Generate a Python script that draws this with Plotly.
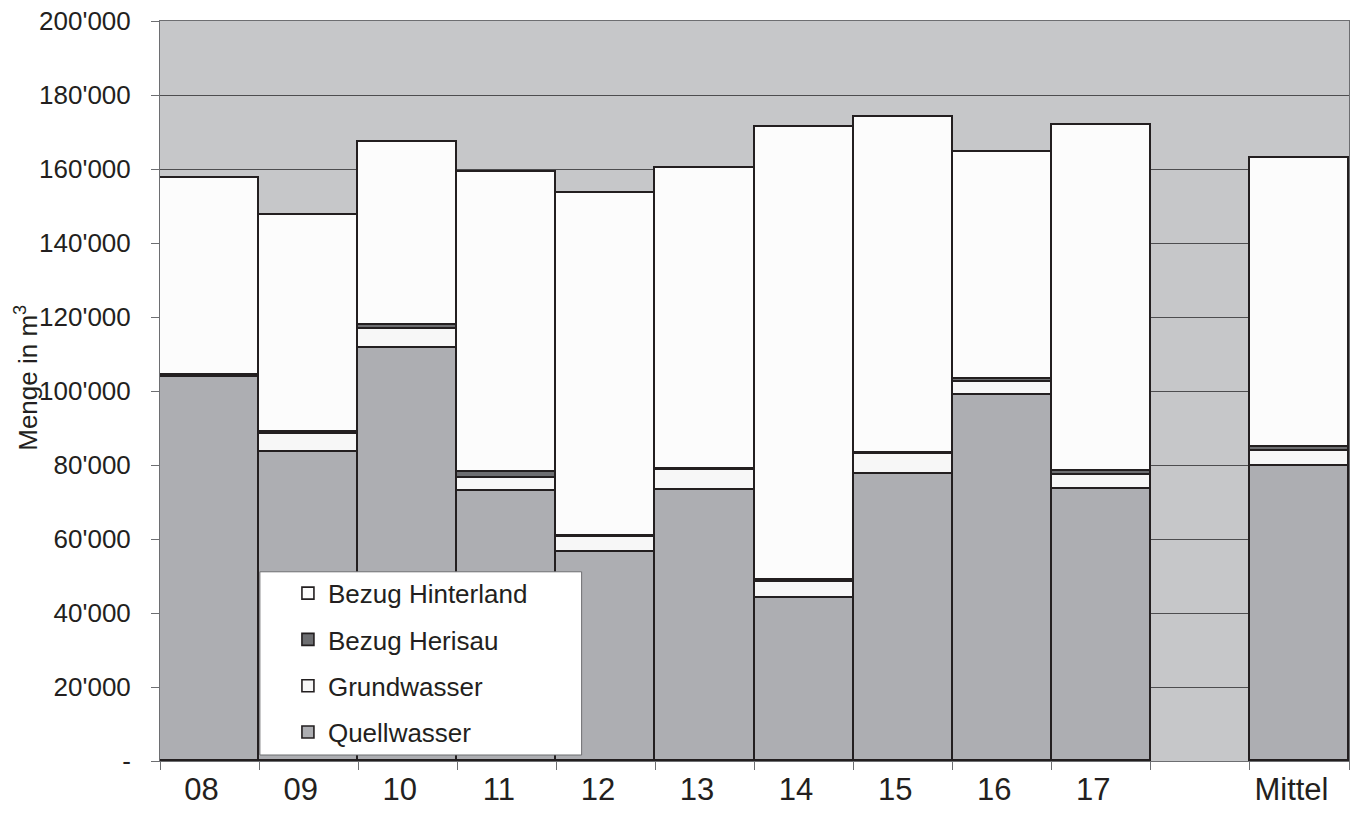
import plotly.graph_objects as go

# Jahresmengen der Wasserbeschaffung (m3), Jahre 2008-2017 plus Mittelwert
kategorien = ["08", "09", "10", "11", "12", "13", "14", "15", "16", "17", " ", "Mittel"]

quellwasser = [103700, 83500, 111700, 73000, 56600, 73300, 44100, 77700, 98900, 73500, None, 79600]
grundwasser = [0, 4800, 5000, 3400, 4000, 5300, 4300, 5300, 3400, 3900, None, 4200]
bezug_herisau = [700, 700, 1200, 1800, 300, 300, 400, 300, 1000, 1000, None, 1000]
bezug_hinterland = [53100, 58600, 49300, 80900, 92500, 81500, 122600, 90800, 61200, 93450, None, 78300]

y_ticks = [0, 20000, 40000, 60000, 80000, 100000, 120000, 140000, 160000, 180000, 200000]
y_ticktext = ["-", "20'000", "40'000", "60'000", "80'000", "100'000", "120'000",
              "140'000", "160'000", "180'000", "200'000"]

FONT = "Liberation Sans, Arial, sans-serif"
EDGE = "#231f20"

# (name, values, fill colour, legend rank)
serien = [
    ("Quellwasser", quellwasser, "#adaeb2", 4),
    ("Grundwasser", grundwasser, "#f7f7f7", 3),
    ("Bezug Herisau", bezug_herisau, "#6d6e71", 2),
    ("Bezug Hinterland", bezug_hinterland, "#fcfcfc", 1),
]

fig = go.Figure()
for name, werte, farbe, rang in serien:
    fig.add_trace(go.Bar(
        x=kategorien, y=werte, name=name, legendgroup=name, legendrank=rang,
        marker=dict(color=farbe, line=dict(color=EDGE, width=1.6)),
        hoverinfo="x+y+name",
    ))

# white legend frame
fig.add_shape(type="rect", xref="paper", yref="paper",
              x0=0.084, x1=0.3546, y0=0.0081, y1=0.2557,
              fillcolor="white", line=dict(color="#6d6e71", width=1), layer="above")

# y-axis title
fig.add_annotation(text="Menge in m<sup>3</sup>", xref="paper", yref="paper",
                   x=-0.1118, y=0.518, xanchor="center", yanchor="middle",
                   textangle=-90, showarrow=False,
                   font=dict(family=FONT, size=26, color="#231f20"))

fig.update_layout(
    width=1356, height=813,
    margin=dict(l=160, r=6, t=18, b=52),
    barmode="stack", bargap=0,
    plot_bgcolor="#c6c7c9", paper_bgcolor="white",
    font=dict(family=FONT, size=24, color="#231f20"),
    showlegend=True,
    legend=dict(
        x=0.1076, y=0.2585, xanchor="left", yanchor="top",
        traceorder="grouped", tracegroupgap=9.5,
        bgcolor="rgba(0,0,0,0)", borderwidth=0,
        font=dict(family=FONT, size=26, color="#231f20"),
    ),
    xaxis=dict(
        type="category", categoryorder="array", categoryarray=kategorien,
        tickson="boundaries", ticks="outside", ticklen=8, tickcolor="#6d6e71",
        showgrid=False, showline=True, linecolor="#6d6e71", linewidth=1, mirror=True,
        tickfont=dict(family=FONT, size=31, color="#231f20"),
        ticklabelstandoff=1, ticklabelshift=-8,
    ),
    yaxis=dict(
        range=[0, 200000], tickvals=y_ticks, ticktext=y_ticktext,
        ticks="outside", ticklen=8, tickcolor="#6d6e71",
        showgrid=True, gridcolor="#4d4d4f", gridwidth=1, zeroline=False,
        showline=True, linecolor="#6d6e71", linewidth=1, mirror=True,
        tickfont=dict(family=FONT, size=26, color="#231f20"),
        ticklabelstandoff=15,
    ),
)

fig.write_html("out.html")
